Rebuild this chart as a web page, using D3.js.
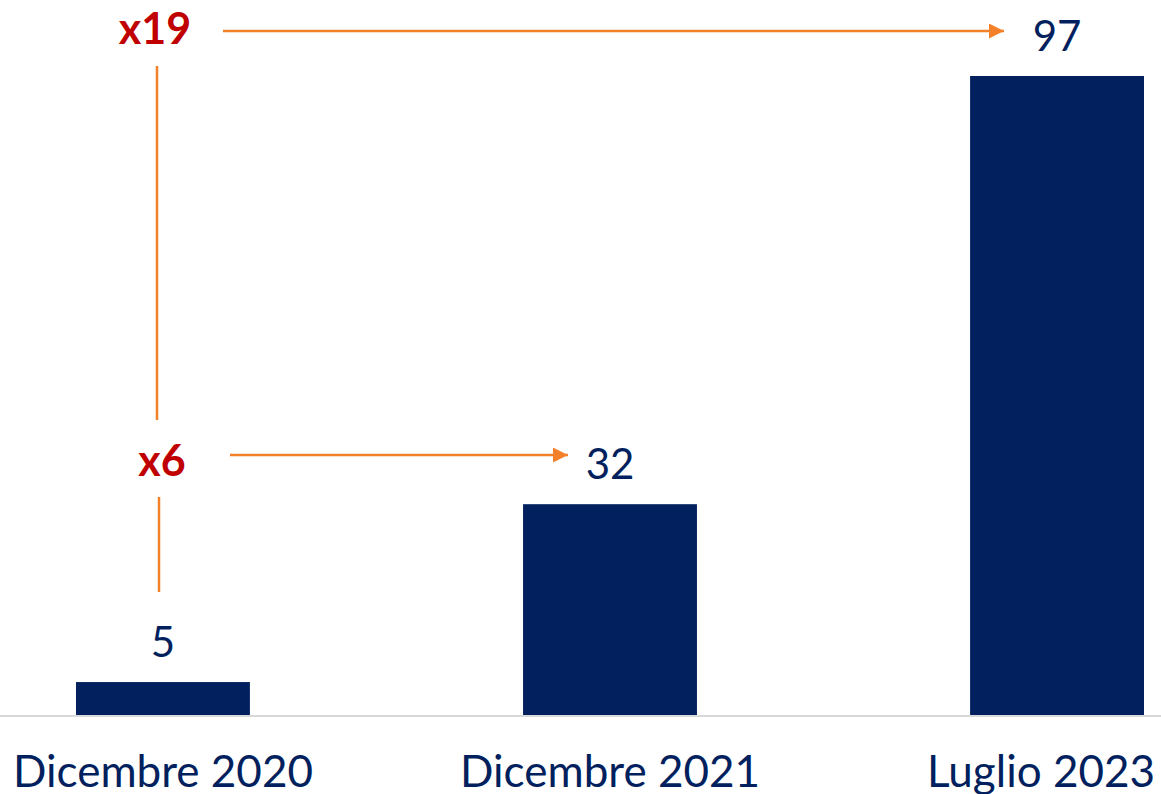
<!DOCTYPE html>
<html><head><meta charset="utf-8">
<script src="https://cdn.jsdelivr.net/npm/d3@7"></script>
<style>body{margin:0;background:#fff}svg{display:block}</style>
</head><body>
<script>
const categories = ["Dicembre 2020", "Dicembre 2021", "Luglio 2023"];
const values = [5, 32, 97];
const multipliers = ["x19", "x6"];

const W = 1161, H = 794;
const navy = "#021F5E", red = "#C00000", orange = "#F4812A";
const font = "'Source Sans Pro','Lato','Noto Sans',sans-serif";
const svg = d3.select("body").append("svg").attr("width", W).attr("height", H);
const defs = svg.append("defs");
defs.append("marker").attr("id","arr").attr("viewBox","0 0 10 10").attr("refX",10).attr("refY",5)
  .attr("markerWidth",6).attr("markerHeight",6).attr("markerUnits","strokeWidth").attr("orient","auto")
  .append("path").attr("d","M0,0L10,5L0,10Z").attr("fill",orange);

const base = 715;
const x = d3.scaleBand().domain(categories).range([76, 1144]).paddingInner(0.611).paddingOuter(0);
const y = d3.scaleLinear().domain([0, 97]).range([base, 76]);

svg.selectAll("rect.bar").data(values).join("rect").attr("class","bar")
  .attr("x",(d,i)=>x(categories[i])).attr("width",x.bandwidth())
  .attr("y",d=>y(d)).attr("height",d=>base-y(d)).attr("fill",navy);

svg.append("line").attr("x1",0).attr("x2",W).attr("y1",base+1).attr("y2",base+1)
  .attr("stroke","#D9D9D9").attr("stroke-width",2);

// value labels
svg.selectAll("text.val").data(values).join("text").attr("class","val")
  .attr("x",(d,i)=>x(categories[i])+x.bandwidth()/2).attr("y",d=>y(d)-25)
  .attr("text-anchor","middle").attr("font-family",font).attr("font-size",42).attr("fill",navy)
  .text(d=>d);

// category labels
svg.selectAll("text.cat").data(categories).join("text").attr("class","cat")
  .attr("y",787).attr("text-anchor","middle").attr("font-family",font).attr("font-size",44).attr("fill",navy)
  .text(d=>d)
  .each(function(d){
    const w = this.getComputedTextLength();
    const cx = Math.min(x(d)+x.bandwidth()/2, W - 6 - w/2);
    d3.select(this).attr("x", cx);
  });

// annotations
const ax = 157;
const ann = svg.append("g");
ann.append("text").attr("x",ax-2).attr("y",44).attr("text-anchor","middle").attr("font-family",font)
  .attr("font-weight","bold").attr("font-size",43).attr("fill",red).text(multipliers[0]);
ann.append("text").attr("x",ax+5).attr("y",476).attr("text-anchor","middle").attr("font-family",font)
  .attr("font-weight","bold").attr("font-size",43).attr("fill",red).text(multipliers[1]);
ann.append("line").attr("x1",223).attr("x2",1004).attr("y1",31).attr("y2",31)
  .attr("stroke",orange).attr("stroke-width",2.5).attr("marker-end","url(#arr)");
ann.append("line").attr("x1",230).attr("x2",568).attr("y1",455).attr("y2",455)
  .attr("stroke",orange).attr("stroke-width",2.5).attr("marker-end","url(#arr)");
ann.append("line").attr("x1",ax).attr("x2",ax).attr("y1",66).attr("y2",420)
  .attr("stroke",orange).attr("stroke-width",2.5);
ann.append("line").attr("x1",ax+2).attr("x2",ax+2).attr("y1",497).attr("y2",592)
  .attr("stroke",orange).attr("stroke-width",2.5);
</script>
</body></html>
